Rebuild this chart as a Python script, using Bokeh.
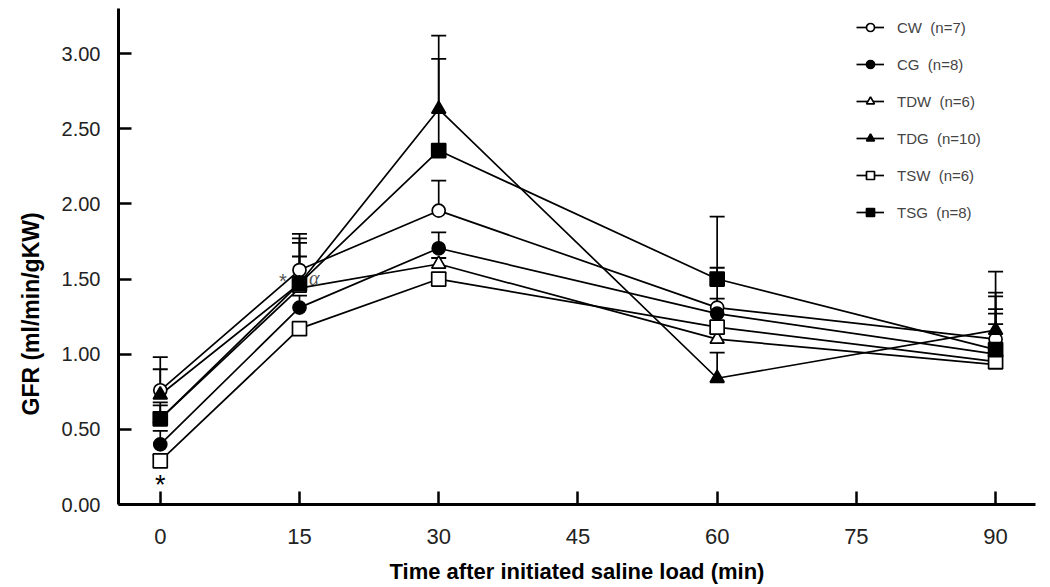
from bokeh.plotting import figure
from bokeh.models import Legend, LegendItem, Title, FixedTicker, Range1d, NumeralTickFormatter
from bokeh.core.properties import value
from bokeh.embed import file_html
from bokeh.resources import INLINE

# ---- data ----
times = [0, 15, 30, 60, 90]
x_ticks = [0, 15, 30, 45, 60, 75, 90]
y_ticks = [0.0, 0.5, 1.0, 1.5, 2.0, 2.5, 3.0]

names = ["CW  (n=7)", "CG  (n=8)", "TDW  (n=6)", "TDG  (n=10)", "TSW  (n=6)", "TSG  (n=8)"]

cw = [0.76, 1.56, 1.955, 1.31, 1.10]
cw_err = [0.22, 0.24, 0.20, 0.265, 0.31]
cg = [0.40, 1.31, 1.705, 1.27, 1.00]
cg_err = [0.09, 0.08, 0.105, 0.10, 0.30]
tdw = [0.57, 1.44, 1.60, 1.10, 0.93]
tdw_err = [0.11, 0.21, 0.04, 0.04, 0.27]
tdg = [0.73, 1.47, 2.63, 0.84, 1.16]
tdg_err = [0.17, 0.27, 0.49, 0.17, 0.39]
tsw = [0.29, 1.17, 1.50, 1.18, 0.95]
tsw_err = [0.04, 0.04, 0.04, 0.04, 0.32]
tsg = [0.57, 1.47, 2.355, 1.50, 1.03]
tsg_err = [0.09, 0.30, 0.61, 0.415, 0.355]

means = [cw, cg, tdw, tdg, tsw, tsg]
errs = [cw_err, cg_err, tdw_err, tdg_err, tsw_err, tsg_err]
markers = ["circle", "circle", "triangle", "triangle", "square", "square"]
fills = ["white", "black", "white", "black", "white", "black"]

# significance annotations
star0_x = [0]
star0_y = [0.13]
star15_x = [13.2]
star15_y = [1.49]
alpha_x = [16.6]
alpha_y = [1.51]

p = figure(width=1050, height=587, output_backend="svg", toolbar_location=None,
           x_range=Range1d(-4.5, 94.3), y_range=Range1d(0, 3.30),
           min_border_left=118, min_border_right=15, min_border_top=8, min_border_bottom=83)
p.outline_line_color = None
p.xgrid.visible = False
p.ygrid.visible = False

for ax in (p.xaxis[0], p.yaxis[0]):
    ax.axis_line_width = 3
    ax.axis_line_color = "black"
    ax.major_tick_line_width = 2.5
    ax.major_tick_in = 13
    ax.major_tick_out = 0
    ax.minor_tick_line_color = None
    ax.major_label_text_font = "Liberation Sans"
    ax.major_label_text_color = "#222222"
    ax.axis_label_text_font = "Liberation Sans"
    ax.axis_label_text_font_style = "bold"
    ax.axis_label_text_color = "black"
    ax.axis_label_text_font_size = "22px"

p.xaxis.ticker = FixedTicker(ticks=x_ticks)
p.yaxis.ticker = FixedTicker(ticks=y_ticks)
p.yaxis.formatter = NumeralTickFormatter(format="0.00")
p.xaxis.major_label_text_font_size = "22px"
p.yaxis.major_label_text_font_size = "20px"
p.xaxis.major_label_standoff = 24
p.yaxis.major_label_standoff = 18
p.xaxis.axis_label = "Time after initiated saline load (min)"
p.xaxis.axis_label_standoff = 12

ytitle = Title(text="GFR (ml/min/gKW)", align="left", offset=89, standoff=30,
               text_font="Liberation Sans", text_font_style="bold",
               text_font_size="23px", text_color="black")
p.add_layout(ytitle, "left")

line_rs = []
for m in means:
    line_rs.append(p.line(times, m, line_color="black", line_width=1.7))

for m, e in zip(means, errs):
    tops = [a + b for a, b in zip(m, e)]
    p.segment(x0=times, y0=m, x1=times, y1=tops, line_color="black", line_width=1.7)
    p.scatter(times, tops, marker="dash", size=15, line_color="black", line_width=1.8)

sizes = {"circle": 13, "triangle": 14, "square": 14}
mark_rs = []
for m, mk, fc in zip(means, markers, fills):
    mark_rs.append(p.scatter(times, m, marker=mk, size=sizes[mk], fill_color=fc,
                             line_color="black", line_width=1.7))

p.text(x=star0_x, y=star0_y, text=["*"], text_font=value("Liberation Sans"),
       text_font_size="27px", text_color="black", text_align="center",
       text_baseline="middle")
p.text(x=star15_x, y=star15_y, text=["*"], text_font=value("Liberation Sans"),
       text_font_size="20px", text_color="#555555", text_align="center",
       text_baseline="middle")
p.text(x=alpha_x, y=alpha_y, text=["α"], text_font=value("Liberation Serif"),
       text_font_size="20px", text_font_style="italic", text_color="#555555",
       text_align="center", text_baseline="middle")

items = [LegendItem(label=n, renderers=[lr, mr]) for n, lr, mr in zip(names, line_rs, mark_rs)]
legend = Legend(items=items, location=(738, 282), spacing=17, padding=0,
                glyph_width=28, glyph_height=20, label_height=20, label_standoff=13,
                label_text_font="Liberation Sans", label_text_font_size="15px",
                label_text_color="#444444", border_line_color=None,
                background_fill_alpha=0)
p.add_layout(legend)

open("out.html", "w").write(file_html(p, INLINE))
